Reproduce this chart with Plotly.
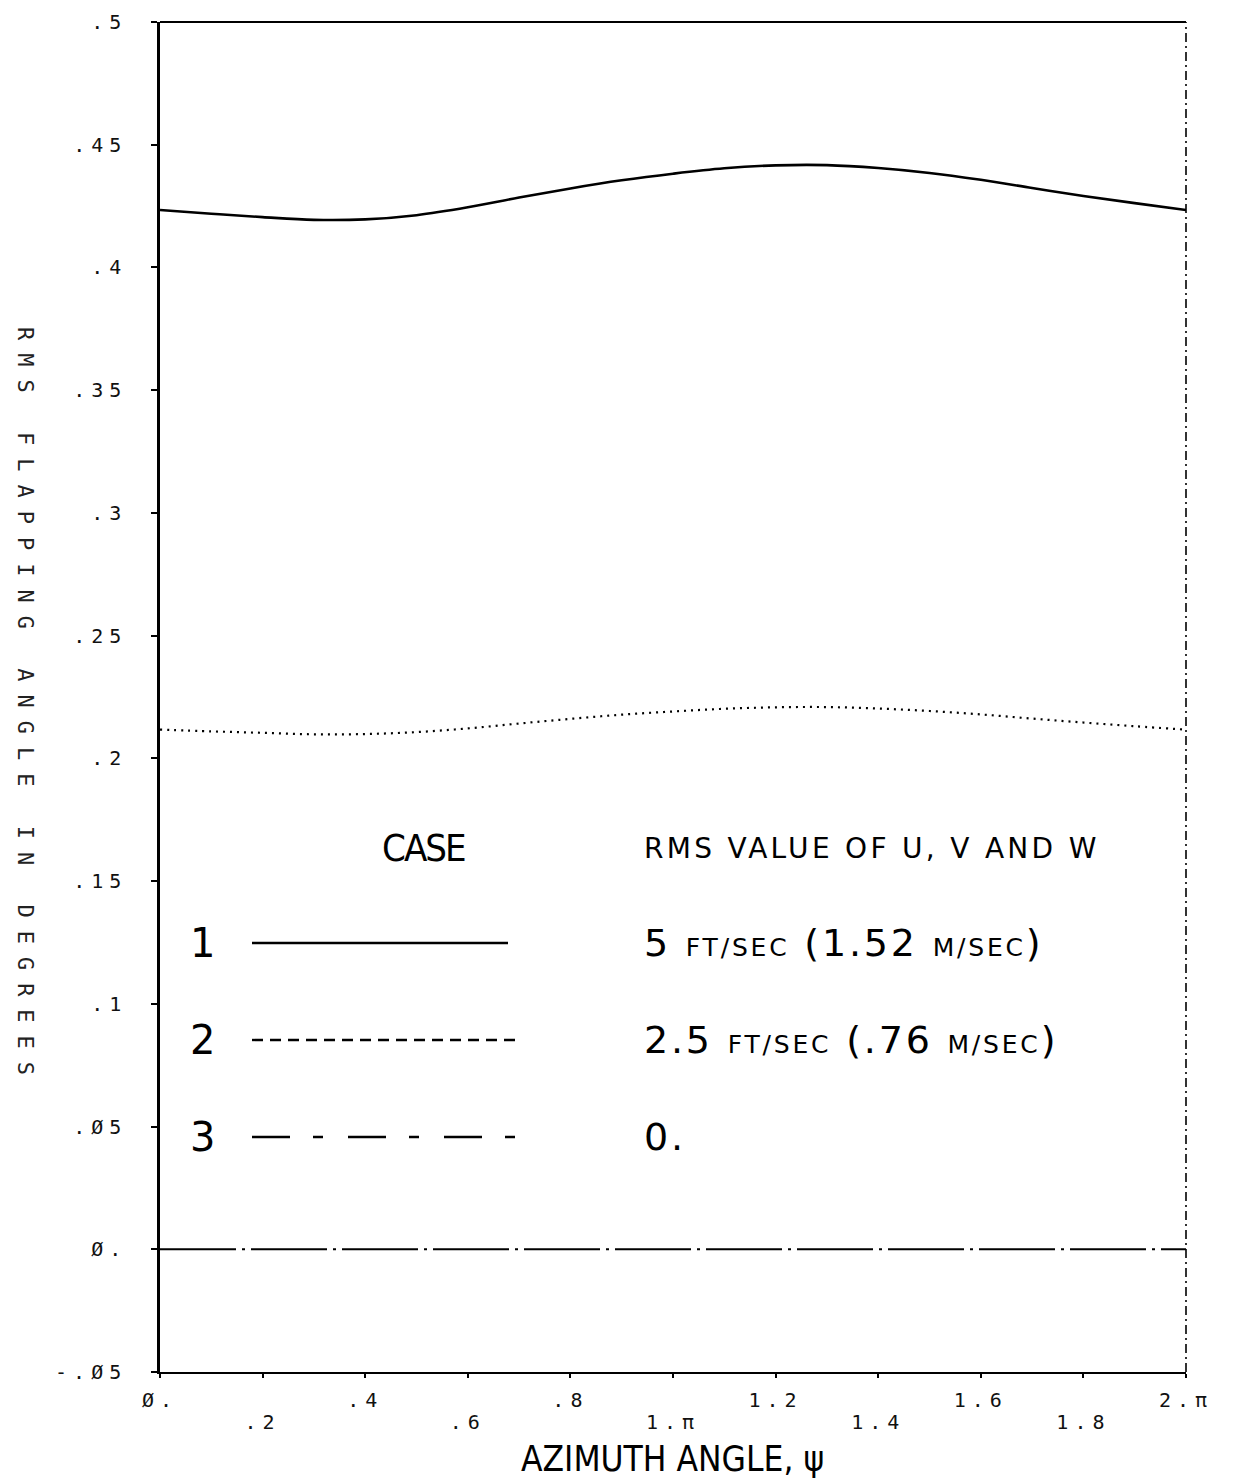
import plotly.graph_objects as go

# Azimuth angle, in units of pi
psi = [0.0, 0.1, 0.2, 0.3, 0.4, 0.5, 0.6, 0.7, 0.8, 0.9, 1.0,
       1.1, 1.2, 1.3, 1.4, 1.5, 1.6, 1.7, 1.8, 1.9, 2.0]

# RMS flapping angle (deg) for each turbulence case
case1 = [0.4234, 0.4219, 0.4205, 0.4194, 0.4196, 0.4213, 0.4245, 0.4285,
         0.4322, 0.4355, 0.4382, 0.4404, 0.4416, 0.4417, 0.4405, 0.4385,
         0.4357, 0.4324, 0.4291, 0.4262, 0.4234]
case2 = [0.2117, 0.2110, 0.2104, 0.2098, 0.2099, 0.2107, 0.2122, 0.2142,
         0.2161, 0.2178, 0.2191, 0.2202, 0.2208, 0.2209, 0.2203, 0.2193,
         0.2179, 0.2162, 0.2146, 0.2131, 0.2117]
case3 = [0.0, 0.0, 0.0, 0.0, 0.0, 0.0, 0.0, 0.0, 0.0, 0.0, 0.0,
         0.0, 0.0, 0.0, 0.0, 0.0, 0.0, 0.0, 0.0, 0.0, 0.0]

# Axis ticks
y_tickvals = [-0.05, 0.0, 0.05, 0.1, 0.15, 0.2, 0.25, 0.3, 0.35, 0.4, 0.45, 0.5]
y_ticktext = ["-.Ø5", "Ø.", ".Ø5", ".1", ".15", ".2", ".25", ".3", ".35", ".4", ".45", ".5"]
x_tickvals_upper = [0.0, 0.4, 0.8, 1.2, 1.6, 2.0]
x_ticktext_upper = ["Ø.", ".4", ".8", "1.2", "1.6", "2.π"]
x_tickvals_lower = [0.2, 0.6, 1.0, 1.4, 1.8]
x_ticktext_lower = [".2", ".6", "1.π", "1.4", "1.8"]

# Legend content
case_labels = ["1", "2", "3"]
case_values = [
    "5 <span style='font-size:25px'>FT/SEC</span> (1.52 <span style='font-size:25px'>M/SEC</span>)",
    "2.5 <span style='font-size:25px'>FT/SEC</span> (.76 <span style='font-size:25px'>M/SEC</span>)",
    "0.",
]
case_dashes = ["solid", "11px,7px", "38px,23px,10px,25px"]

# Plot-area geometry in pixels (used to place legend items in paper units)
W, H = 1239, 1482
L, R, T, B = 160, 1186, 22, 1372


def px(x):
    return (x - L) / (R - L)


def py(y):
    return (B - y) / (B - T)


def spaced(text, sp):
    return f"<span style='letter-spacing:{sp}px'>{text}</span>"


TICK_FONT = dict(family="DejaVu Sans Mono", size=20, color="#111")
PLOT_FONT = "DejaVu Sans"
NARROW = "Liberation Sans Narrow, DejaVu Sans Condensed, Liberation Sans"

fig = go.Figure()

fig.add_trace(go.Scatter(x=psi, y=case1, mode="lines", line=dict(color="black", width=2.6, shape="spline"),
                         showlegend=False, hoverinfo="skip"))
fig.add_trace(go.Scatter(x=psi, y=case2, mode="lines",
                         line=dict(color="black", width=2.2, dash="2px,5px", shape="spline"),
                         showlegend=False, hoverinfo="skip"))
fig.add_trace(go.Scatter(x=psi, y=case3, mode="lines", xaxis="x2",
                         line=dict(color="black", width=2, dash="76px,6px,3px,6px"),
                         showlegend=False, hoverinfo="skip"))

all_x_ticks = sorted(x_tickvals_upper + x_tickvals_lower)
upper_text = []
for v in all_x_ticks:
    if v in x_tickvals_upper:
        upper_text.append(spaced(x_ticktext_upper[x_tickvals_upper.index(v)], 6))
    else:
        upper_text.append("")

fig.update_layout(
    width=W, height=H,
    margin=dict(l=L, r=W - R, t=T, b=H - B),
    paper_bgcolor="white", plot_bgcolor="white",
    showlegend=False,
    xaxis=dict(range=[0, 2], showgrid=False, zeroline=False, showline=True,
               linecolor="black", linewidth=2, ticks="outside", ticklen=4,
               tickcolor="black", tickwidth=1.5,
               tickvals=all_x_ticks, ticktext=upper_text, tickfont=TICK_FONT,
               ticklabelstandoff=5, automargin=False),
    xaxis2=dict(range=[0, 2], overlaying="x", side="bottom", anchor="y",
                showgrid=False, zeroline=False, showline=False, ticks="",
                tickvals=x_tickvals_lower,
                ticktext=[spaced(t, 6) for t in x_ticktext_lower],
                tickfont=TICK_FONT, ticklabelstandoff=36, automargin=False),
    yaxis=dict(range=[-0.05, 0.5], showgrid=False, zeroline=False, showline=True,
               linecolor="black", linewidth=2.5, ticks="outside", ticklen=6,
               tickcolor="black", tickwidth=1.5,
               tickvals=y_tickvals, ticktext=[spaced(t, 6) for t in y_ticktext],
               tickfont=TICK_FONT, ticklabelstandoff=20, automargin=False),
)

# Frame: solid top edge, broken right edge
fig.add_shape(type="line", xref="paper", yref="paper", x0=0, x1=1, y0=1, y1=1,
              line=dict(color="black", width=2))
fig.add_shape(type="line", xref="paper", yref="paper", x0=1, x1=1, y0=0, y1=1,
              line=dict(color="black", width=1.6, dash="9px,4px,2px,4px"))

# Axis titles
fig.add_annotation(text="AZIMUTH ANGLE, ψ", xref="paper", yref="paper", x=px(672), y=py(1459),
                   showarrow=False, xanchor="center", yanchor="middle",
                   font=dict(family=NARROW, size=35, color="black"))
fig.add_annotation(text=spaced("RMS FLAPPING ANGLE IN DEGREES", 13), xref="paper", yref="paper",
                   x=px(26), y=py(707), textangle=90, showarrow=False,
                   xanchor="center", yanchor="middle",
                   font=dict(family="DejaVu Sans Mono", size=22, color="#222"))

# Legend block drawn inside the plot
fig.add_annotation(text=spaced("CASE", -2), xref="paper", yref="paper", x=px(423), y=py(848),
                   showarrow=False, xanchor="center", yanchor="middle",
                   font=dict(family=NARROW, size=38, color="black"))
fig.add_annotation(text=spaced("RMS VALUE OF U, V AND W", 3.3), xref="paper", yref="paper",
                   x=px(642), y=py(848), showarrow=False, xanchor="left", yanchor="middle",
                   font=dict(family=PLOT_FONT, size=28, color="black"))

row_y = [943, 1040, 1137]
for lab, val, dash, yy in zip(case_labels, case_values, case_dashes, row_y):
    fig.add_annotation(text=lab, xref="paper", yref="paper", x=px(202), y=py(yy),
                       showarrow=False, xanchor="center", yanchor="middle",
                       font=dict(family=PLOT_FONT, size=40, color="black"))
    fig.add_shape(type="line", xref="paper", yref="paper", x0=px(252), x1=px(522 if dash != "solid" else 508),
                  y0=py(yy), y1=py(yy), line=dict(color="black", width=2.4, dash=dash))
    fig.add_annotation(text=spaced(val, 2.8), xref="paper", yref="paper", x=px(642), y=py(yy),
                       showarrow=False, xanchor="left", yanchor="middle",
                       font=dict(family=PLOT_FONT, size=38, color="black"))

fig.write_html("out.html")
